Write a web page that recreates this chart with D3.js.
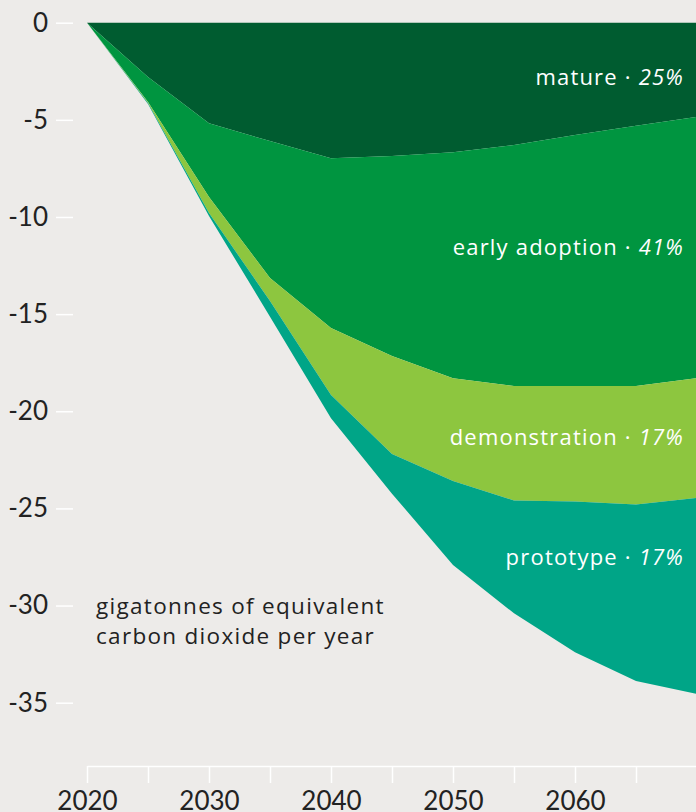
<!DOCTYPE html>
<html>
<head>
<meta charset="utf-8">
<script src="https://cdn.jsdelivr.net/npm/d3@7"></script>
<style>
  html, body { margin: 0; padding: 0; background: #edebe9; }
  svg { display: block; font-family: Lato, "Noto Sans", sans-serif; }
</style>
</head>
<body>
<svg id="chart" width="696" height="812"></svg>
<script>
// years on the x axis
var years = [2020, 2025, 2030, 2035, 2040, 2045, 2050, 2055, 2060, 2065, 2070];

// contribution of each technology stage, gigatonnes CO2e per year (negative = removed)
var mature        = [0, -2.79, -5.18, -6.09, -6.98, -6.86, -6.67, -6.29, -5.78, -5.30, -4.84];
var earlyAdoption = [0, -1.29, -3.79, -7.05, -8.73, -10.29, -11.63, -12.41, -12.92, -13.40, -13.46];
var demonstration = [0, -0.05, -0.83, -1.18, -3.45, -5.05, -5.29, -5.89, -5.95, -6.10, -6.16];
var prototype     = [0, -0.05, -0.15, -0.81, -1.20, -2.04, -4.32, -5.81, -7.75, -9.08, -10.09];

var seriesNames = ["mature", "early adoption", "demonstration", "prototype"];
var seriesShares = ["25%", "41%", "17%", "17%"];
var seriesColors = ["#005c30", "#009540", "#8dc63f", "#00a587"];

var yTicks = [0, -5, -10, -15, -20, -25, -30, -35];
var xTicks = [2020, 2025, 2030, 2035, 2040, 2045, 2050, 2055, 2060, 2065];
var xLabels = [2020, 2030, 2040, 2050, 2060];

// build rows for the stack
var keys = ["mature", "early", "demo", "proto"];
var rows = years.map(function (yr, i) {
  return { year: yr, mature: mature[i], early: earlyAdoption[i], demo: demonstration[i], proto: prototype[i] };
});

var svg = d3.select("#chart");

var x = d3.scaleLinear().domain([2020, 2070]).range([87, 697]);
var y = d3.scaleLinear().domain([0, -35]).range([22.7, 702.7]);

var stack = d3.stack().keys(keys).offset(d3.stackOffsetDiverging);
var layers = stack(rows);

var area = d3.area()
  .x(function (d) { return x(d.data.year); })
  .y0(function (d) { return y(d[0]); })
  .y1(function (d) { return y(d[1]); });

svg.append("g")
  .selectAll("path")
  .data(layers)
  .enter()
  .append("path")
  .attr("d", area)
  .attr("fill", function (d, i) { return seriesColors[i]; });

// y axis, short white ticks with labels (plain hyphen as minus)
var yAxis = svg.append("g")
  .attr("transform", "translate(73,0)")
  .call(d3.axisLeft(y)
    .tickValues(yTicks)
    .tickSize(17)
    .tickPadding(8)
    .tickFormat(function (d) { return String(d); }));
yAxis.select(".domain").remove();
yAxis.selectAll("line").attr("stroke", "#ffffff").attr("stroke-width", 1.5);
yAxis.selectAll("text")
  .attr("fill", "#222")
  .attr("font-size", 26)
  .attr("font-family", "Lato, sans-serif");

// x axis at the bottom
var xAxis = svg.append("g")
  .attr("transform", "translate(0,766)")
  .call(d3.axisBottom(x)
    .tickValues(xTicks)
    .tickSize(17)
    .tickSizeOuter(0)
    .tickFormat(function (d) { return xLabels.indexOf(d) >= 0 ? d : ""; }));
xAxis.select(".domain").attr("stroke", "#ffffff").attr("stroke-width", 1.5);
xAxis.selectAll("line").attr("stroke", "#ffffff").attr("stroke-width", 1.5);
xAxis.selectAll("text")
  .attr("y", 44)
  .attr("dy", 0)
  .attr("fill", "#222")
  .attr("font-size", 26)
  .attr("font-family", "Lato, sans-serif");

// series labels on the right
var labelY = [85, 255, 445, 565];
var labels = svg.append("g").attr("font-family", "'Open Sans', sans-serif");
seriesNames.forEach(function (name, i) {
  var t = labels.append("text")
    .attr("x", 684)
    .attr("y", labelY[i])
    .attr("text-anchor", "end")
    .attr("fill", "#ffffff")
    .attr("font-size", 22)
    .attr("letter-spacing", 1.2);
  t.append("tspan").text(name + " \u00b7 ");
  t.append("tspan").attr("font-style", "italic").text(seriesShares[i]);
});

// unit note
var note = svg.append("text")
  .attr("x", 96)
  .attr("fill", "#222")
  .attr("font-family", "'Open Sans', sans-serif")
  .attr("font-size", 22.5)
  .attr("letter-spacing", 1.3);
note.append("tspan").attr("x", 96).attr("y", 614).text("gigatonnes of equivalent");
note.append("tspan").attr("x", 96).attr("y", 644).text("carbon dioxide per year");
</script>
</body>
</html>
